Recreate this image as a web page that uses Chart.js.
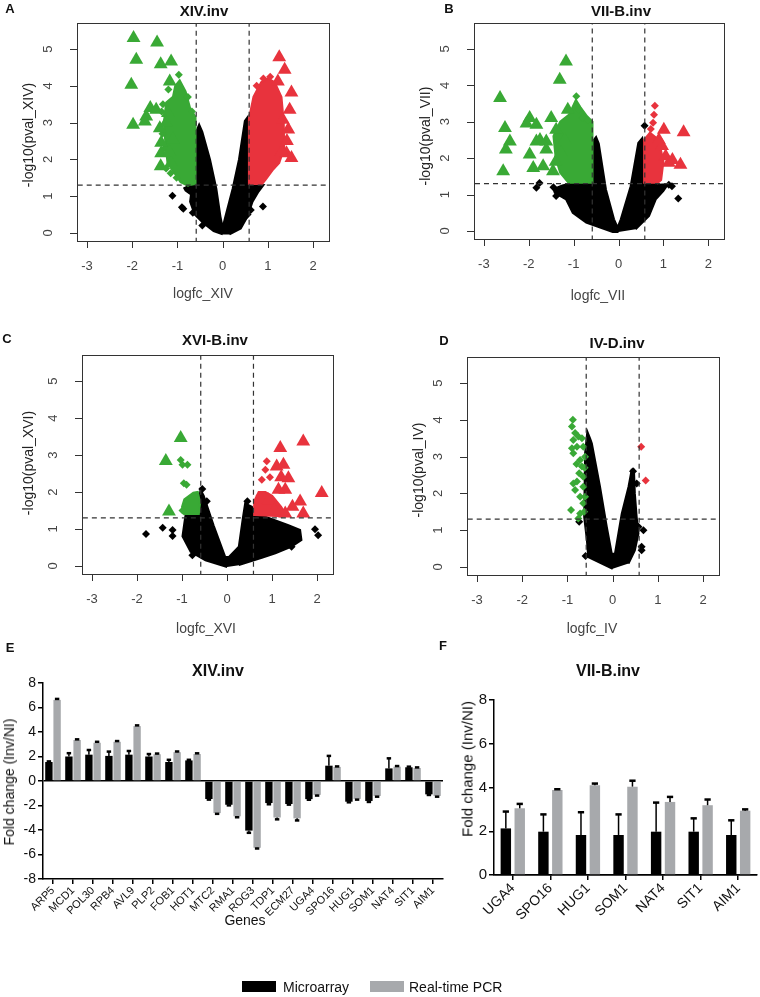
<!DOCTYPE html>
<html>
<head>
<meta charset="utf-8">
<script src="https://cdn.jsdelivr.net/npm/chart.js@4.4.1/dist/chart.umd.min.js"></script>
<style>
body{margin:0;background:#fff;width:760px;height:997px;position:relative;overflow:hidden;font-family:"Liberation Sans",Arial,sans-serif;}
canvas{position:absolute;}
.t{position:absolute;white-space:nowrap;color:#222;line-height:1;transform:translate(-50%,-50%);}
.b{font-weight:bold;color:#111;}
.r{transform:translate(-50%,-50%) rotate(-90deg);}
.sw{position:absolute;width:34px;height:11px;}
</style>
</head>
<body>
<canvas id="cA" width="380" height="330" style="left:0;top:0"></canvas>
<canvas id="cB" width="380" height="330" style="left:380px;top:0"></canvas>
<canvas id="cC" width="380" height="330" style="left:0;top:300px"></canvas>
<canvas id="cD" width="380" height="330" style="left:380px;top:300px"></canvas>
<canvas id="cE" width="450" height="300" style="left:0;top:640px"></canvas>
<canvas id="cF" width="320" height="300" style="left:440px;top:640px"></canvas>

<div class="t b" style="left:10px;top:8px;font-size:13px">A</div>
<div class="t b" style="left:449px;top:8px;font-size:13px">B</div>
<div class="t b" style="left:7px;top:338px;font-size:13px">C</div>
<div class="t b" style="left:444px;top:340px;font-size:13px">D</div>
<div class="t b" style="left:10px;top:647px;font-size:13px">E</div>
<div class="t b" style="left:443px;top:645px;font-size:13px">F</div>

<div class="t b" style="left:204px;top:10px;font-size:15px">XIV.inv</div>
<div class="t b" style="left:621px;top:10px;font-size:15px">VII-B.inv</div>
<div class="t b" style="left:215px;top:339px;font-size:15px">XVI-B.inv</div>
<div class="t b" style="left:617px;top:342px;font-size:15px">IV-D.inv</div>
<div class="t b" style="left:218px;top:671px;font-size:16px">XIV.inv</div>
<div class="t b" style="left:608px;top:671px;font-size:16px">VII-B.inv</div>

<div class="t" style="left:203px;top:293px;font-size:14px;color:#444">logfc_XIV</div>
<div class="t" style="left:598px;top:295px;font-size:14px;color:#444">logfc_VII</div>
<div class="t" style="left:206px;top:628px;font-size:14px;color:#444">logfc_XVI</div>
<div class="t" style="left:592px;top:628px;font-size:14px;color:#444">logfc_IV</div>
<div class="t r" style="left:28px;top:135px;font-size:14px">-log10(pval_XIV)</div>
<div class="t r" style="left:425px;top:136px;font-size:14px">-log10(pval_VII)</div>
<div class="t r" style="left:28px;top:463px;font-size:14px">-log10(pval_XVI)</div>
<div class="t r" style="left:418px;top:470px;font-size:14px">-log10(pval_IV)</div>

<div class="t r" style="left:9px;top:782px;font-size:14px;color:#111">Fold change (Inv/NI)</div>
<div class="t r" style="left:467px;top:769px;font-size:15px;color:#111">Fold change (Inv/NI)</div>
<div class="t" style="left:245px;top:920px;font-size:14px;color:#111">Genes</div>

<div class="sw" style="left:242px;top:981px;background:#000"></div>
<div class="t" style="left:283px;top:987px;font-size:14px;color:#111;transform:translate(0,-50%)">Microarray</div>
<div class="sw" style="left:370px;top:981px;background:#a7a9ac"></div>
<div class="t" style="left:409px;top:987px;font-size:14px;color:#111;transform:translate(0,-50%)">Real-time PCR</div>

<script>
// volcano axes
var xTicks = [-3, -2, -1, 0, 1, 2];
var yTicks = [0, 1, 2, 3, 4, 5];
var xLim = [-3.22, 2.35];
var yLim = [-0.22, 5.71];
var fcCut = 0.585;
var pCut = 1.301;

// A: XIV.inv  (clouds are outlines of the dense point areas)
var aBlackCloud = [[0,-0.04],[-0.2,0.05],[-0.43,0.27],[-0.62,0.5],[-0.72,0.85],[-0.7,1.05],[-0.82,1.15],[-0.85,1.22],[-0.72,1.3],[-0.62,1.45],[-0.6,2.2],[-0.57,2.8],[-0.52,2.95],[-0.45,2.75],[-0.28,2.0],[-0.14,1.2],[-0.05,0.45],[0,0.15],[0.05,0.4],[0.22,1.2],[0.36,2.0],[0.49,3.05],[0.55,3.15],[0.56,2.3],[0.57,1.4],[0.7,1.28],[0.9,1.3],[0.78,1.1],[0.66,0.85],[0.55,0.45],[0.4,0.12],[0.15,-0.04]];
var aBlackDots = [[-1.11,1.01],[-0.9,0.7],[-0.87,0.66],[0.89,0.72],[-0.75,1.18],[-0.45,0.2],[0.48,0.42],[0.55,0.5],[-0.66,0.55],[0.62,0.62]];
var aGreenCloud = [[-0.6,1.3],[-0.6,3.15],[-0.72,3.4],[-0.82,3.85],[-0.95,4.15],[-1.05,4.0],[-1.1,3.7],[-1.25,3.55],[-1.3,3.0],[-1.27,2.5],[-1.22,1.9],[-1.08,1.65],[-0.93,1.38],[-0.75,1.27]];
var aGreenDots = [[-0.97,4.3],[-0.77,3.7],[-1.2,3.9],[-0.68,3.3],[-1.32,3.5],[-1.35,3.3],[-1.33,2.7],[-1.28,2.3],[-1.25,1.75],[-1.15,1.62],[-1.02,1.5]];
var aGreenTri = [[-1.97,5.3],[-1.45,5.18],[-1.91,4.71],[-1.37,4.59],[-1.14,4.66],[-2.02,4.03],[-1.17,4.12],[-1.6,3.4],[-1.69,3.17],[-1.98,2.94],[-1.72,3.03],[-1.39,2.85],[-1.36,2.45],[-1.1,2.54],[-1.36,2.17],[-1.37,1.81],[-1.14,1.9],[-1.47,3.35],[-1.21,3.26],[-1.25,3.0],[-1.18,2.2]];
var aRedCloud = [[0.58,1.3],[0.58,3.1],[0.68,3.7],[0.85,4.1],[1.0,4.2],[1.15,4.1],[1.3,3.7],[1.35,3.0],[1.36,2.3],[1.25,1.9],[1.1,1.7],[0.95,1.45],[0.85,1.3]];
var aRedDots = [[0.75,4.0],[0.9,4.2],[1.05,4.25]];
var aRedTri = [[1.25,4.78],[1.37,4.44],[1.22,4.12],[1.52,3.82],[1.48,3.35],[1.45,2.81],[1.52,2.04],[1.41,2.17],[1.33,3.08],[1.42,2.5],[1.3,2.2]];

// B: VII-B.inv
var bBlackCloud = [[0,-0.03],[-0.13,-0.03],[-0.72,0.23],[-1.02,0.5],[-1.17,0.87],[-1.42,1.05],[-1.45,1.15],[-1.25,1.25],[-1.1,1.3],[-0.62,1.32],[-0.58,1.9],[-0.55,2.5],[-0.5,2.58],[-0.44,2.4],[-0.28,1.14],[-0.1,0.32],[-0.02,0.1],[0.05,0.32],[0.27,1.23],[0.44,2.42],[0.53,2.55],[0.58,2.2],[0.6,1.4],[0.83,1.27],[1.1,1.28],[1.0,1.1],[0.83,0.87],[0.68,0.41],[0.38,0.05]];
var bBlackDots = [[-1.76,1.32],[-1.83,1.19],[-1.39,0.96],[-1.45,1.2],[1.33,0.89],[1.12,1.27],[1.19,1.23],[0.58,2.89]];
var bGreenCloud = [[-0.58,1.3],[-0.58,3.0],[-0.7,3.15],[-0.85,3.4],[-0.95,3.6],[-1.1,3.2],[-1.3,3.0],[-1.45,2.6],[-1.4,2.0],[-1.3,1.6],[-1.1,1.3]];
var bGreenDots = [[-0.94,3.7],[-0.89,3.33],[-0.8,3.1],[-0.7,3.05]];
var bGreenTri = [[-1.17,4.65],[-1.31,4.15],[-2.64,3.65],[-2.53,2.83],[-2.42,2.46],[-2.51,2.24],[-2.57,1.64],[-1.98,3.1],[-1.83,2.92],[-1.98,2.1],[-1.9,1.73],[-1.83,2.46],[-1.61,2.46],[-1.5,3.1],[-1.68,1.78],[-1.46,1.64],[-1.61,2.24],[-1.39,2.78],[-1.13,3.33],[-1.28,2.14],[-2.05,2.95],[-1.75,2.5],[-1.4,1.9],[-1.2,2.5]];
var bRedCloud = [[0.57,1.3],[0.57,2.5],[0.7,2.7],[0.85,2.55],[0.95,2.2],[1.0,1.9],[0.95,1.4],[0.85,1.3]];
var bRedDots = [[0.81,3.44],[0.79,3.19],[0.77,2.97],[0.72,2.8]];
var bRedTri = [[1.01,2.78],[1.45,2.71],[1.38,1.82],[1.12,1.87],[0.97,2.33],[1.05,2.05],[0.9,2.5],[1.2,1.95]];

// C: XVI-B.inv
var cBlackCloud = [[0,-0.03],[-0.48,0.15],[-0.81,0.38],[-0.99,0.8],[-0.95,1.15],[-0.92,1.4],[-0.7,1.5],[-0.62,1.8],[-0.59,2.06],[-0.52,1.9],[-0.3,1.1],[-0.04,0.24],[0.04,0.24],[0.26,0.52],[0.35,1.3],[0.4,1.69],[0.55,1.6],[0.6,1.4],[0.85,1.33],[1.36,1.1],[1.62,0.97],[1.65,0.7],[1.43,0.52],[1.07,0.34],[0.77,0.22],[0.26,0.02]];
var cBlackDots = [[-1.8,0.86],[-1.43,1.03],[-1.21,0.97],[-1.21,0.81],[-0.77,0.29],[1.95,0.99],[2.02,0.83],[1.43,0.83],[1.25,0.52],[1.43,0.52],[-0.55,2.08],[-0.45,1.75],[0.45,1.75]];
var cGreenCloud = [[-0.63,1.38],[-0.6,1.7],[-0.65,2.0],[-0.75,1.98],[-0.95,1.8],[-1.0,1.6],[-0.95,1.38]];
var cGreenDots = [[-1.03,2.87],[-0.99,2.74],[-0.88,2.74],[-0.96,2.24],[-0.9,2.2],[-0.99,1.5]];
var cGreenTri = [[-1.03,3.46],[-1.36,2.84],[-1.29,1.47]];
var cRedCloud = [[0.6,1.35],[0.6,1.75],[0.7,2.0],[0.85,2.0],[1.0,1.9],[1.2,1.6],[1.3,1.4],[1.2,1.32]];
var cRedDots = [[0.88,2.83],[0.85,2.6],[0.77,2.33],[0.95,2.4],[0.72,1.9]];
var cRedTri = [[1.18,3.19],[1.69,3.37],[1.1,2.69],[1.25,2.74],[1.36,2.37],[1.14,2.06],[1.29,2.06],[2.1,1.97],[1.62,1.74],[1.69,1.42],[1.29,1.42],[0.92,1.78],[1.05,1.5],[1.2,2.4],[1.45,1.6]];

// D: IV-D.inv
var dBlackCloud = [[0,-0.05],[-0.54,0.27],[-0.57,0.73],[-0.63,1.36],[-0.61,3.09],[-0.56,3.68],[-0.5,3.5],[-0.46,3.36],[-0.28,2.18],[-0.13,1.09],[-0.02,0.36],[0.05,0.36],[0.2,1.45],[0.35,2.18],[0.42,2.64],[0.47,2.64],[0.49,2.0],[0.53,1.36],[0.57,0.91],[0.49,0.45],[0.35,0.09]];
var dBlackDots = [[-0.74,1.23],[0.68,1.0],[0.64,0.55],[0.64,0.45],[0.57,1.09],[0.53,2.27],[0.45,2.6],[-0.6,0.3]];
var dGreenDots = [[-0.88,4.0],[-0.9,3.82],[-0.83,3.64],[-0.76,3.55],[-0.68,3.5],[-0.87,3.45],[-0.79,3.27],[-0.9,3.23],[-0.65,3.27],[-0.87,3.09],[-0.72,2.91],[-0.61,3.0],[-0.68,2.73],[-0.74,2.55],[-0.65,2.45],[-0.79,2.32],[-0.83,2.09],[-0.65,2.18],[-0.72,1.91],[-0.61,1.91],[-0.65,1.73],[-0.92,1.55],[-0.72,1.45],[-0.63,1.5],[-0.76,1.32],[-0.87,2.27],[-0.8,2.8],[-0.62,2.7]];
var dRedDots = [[0.63,3.27],[0.73,2.35]];

// E: XIV.inv fold changes
var genesE = ['ARP5','MCD1','POL30','RPB4','AVL9','PLP2','FOB1','HOT1','MTC2','RMA1','ROG3','TDP1','ECM27','UGA4','SPO16','HUG1','SOM1','NAT4','SIT1','AIM1'];
var microE = [1.55, 2.0, 2.15, 2.05, 2.15, 2.0, 1.55, 1.68, -1.47, -1.94, -4.05, -1.8, -1.88, -1.48, 1.25, -1.69, -1.63, 1.03, 1.12, -1.09];
var microErrE = [0.05, 0.27, 0.38, 0.35, 0.3, 0.2, 0.18, 0.05, 0.05, 0.05, 0.18, 0.1, 0.05, 0.05, 0.8, 0.05, 0.08, 0.82, 0.05, 0.05];
var pcrE = [6.62, 3.35, 3.12, 3.2, 4.48, 2.18, 2.35, 2.2, -2.62, -2.88, -5.45, -2.98, -3.05, -1.13, 1.15, -1.46, -1.22, 1.17, 1.06, -1.22];
var pcrErrE = [0.08, 0.05, 0.08, 0.06, 0.06, 0.06, 0.06, 0.06, 0.06, 0.08, 0.06, 0.15, 0.17, 0.06, 0.04, 0.06, 0.06, 0.05, 0.05, 0.06];

// F: VII-B.inv fold changes
var genesF = ['UGA4','SPO16','HUG1','SOM1','NAT4','SIT1','AIM1'];
var microF = [2.13, 1.98, 1.83, 1.83, 1.98, 1.98, 1.83];
var microErrF = [0.77, 0.79, 1.04, 0.94, 1.33, 0.61, 0.67];
var pcrF = [3.05, 3.89, 4.1, 4.04, 3.34, 3.19, 2.94];
var pcrErrF = [0.2, 0.03, 0.08, 0.27, 0.23, 0.26, 0.06];

var GREEN = '#39a935';
var RED = '#e8333d';
var BLACK = '#000';
var GREY = '#a7a9ac';
var FONT = '"Liberation Sans", Arial, sans-serif';

Chart.defaults.font.family = FONT;
Chart.defaults.animation = false;

function pts(a) {
    return a.map(function (p) { return {x: p[0], y: p[1]}; });
}
function cloud(a, col) {
    return {data: pts(a), showLine: true, fill: 'shape', backgroundColor: col, borderColor: col,
            borderWidth: 2, pointRadius: 0, tension: 0};
}
function dots(a, col, style, r) {
    return {data: pts(a), backgroundColor: col, borderColor: col, pointStyle: style,
            pointRadius: r, borderWidth: 0};
}
function cut(a) {
    return {data: pts(a), showLine: true, fill: false, borderColor: '#333', borderWidth: 1.2,
            borderDash: [5, 4], pointRadius: 0};
}

// R style box, ticks and rotated y labels
var rAxes = {
    id: 'rAxes',
    afterDraw: function (chart) {
        var ctx = chart.ctx, a = chart.chartArea, x = chart.scales.x, y = chart.scales.y;
        ctx.save();
        ctx.strokeStyle = '#333';
        ctx.lineWidth = 1;
        ctx.strokeRect(a.left + 0.5, a.top + 0.5, a.right - a.left, a.bottom - a.top);
        ctx.beginPath();
        xTicks.forEach(function (v) {
            var px = Math.round(x.getPixelForValue(v)) + 0.5;
            ctx.moveTo(px, a.bottom);
            ctx.lineTo(px, a.bottom + 7);
        });
        yTicks.forEach(function (v) {
            var py = Math.round(y.getPixelForValue(v)) + 0.5;
            ctx.moveTo(a.left, py);
            ctx.lineTo(a.left - 7, py);
        });
        ctx.stroke();
        ctx.fillStyle = '#444';
        ctx.font = '13px ' + FONT;
        ctx.textAlign = 'center';
        ctx.textBaseline = 'middle';
        xTicks.forEach(function (v) {
            ctx.fillText(String(v), x.getPixelForValue(v), a.bottom + 25);
        });
        yTicks.forEach(function (v) {
            ctx.save();
            ctx.translate(a.left - 29, y.getPixelForValue(v));
            ctx.rotate(-Math.PI / 2);
            ctx.fillText(String(v), 0, 0);
            ctx.restore();
        });
        ctx.restore();
    }
};

function volcano(id, cl, ct, box, sets) {
    var cv = document.getElementById(id);
    var datasets = [
        cut([[-fcCut, -1], [-fcCut, 7]]),
        cut([[fcCut, -1], [fcCut, 7]]),
        cut([[-4, pCut], [3, pCut]]),
        dots(sets.greenTri || [], GREEN, 'triangle', 8),
        dots(sets.redTri || [], RED, 'triangle', 8),
        dots(sets.greenDots || [], GREEN, 'rectRot', 4),
        dots(sets.redDots || [], RED, 'rectRot', 4),
        cloud(sets.greenCloud || [], GREEN),
        cloud(sets.redCloud || [], RED),
        dots(sets.blackDots, BLACK, 'rectRot', 4),
        cloud(sets.blackCloud, BLACK)
    ];
    return new Chart(cv, {
        type: 'scatter',
        data: {datasets: datasets},
        options: {
            responsive: false,
            layout: {padding: {left: box[0] - cl, top: box[1] - ct,
                               right: cl + cv.width - box[2], bottom: ct + cv.height - box[3]}},
            plugins: {legend: {display: false}, tooltip: {enabled: false}},
            scales: {
                x: {type: 'linear', min: xLim[0], max: xLim[1], display: false},
                y: {type: 'linear', min: yLim[0], max: yLim[1], display: false}
            }
        },
        plugins: [rAxes]
    });
}

volcano('cA', 0, 0, [77, 23, 329, 241], {blackCloud: aBlackCloud, blackDots: aBlackDots,
    greenCloud: aGreenCloud, greenDots: aGreenDots, greenTri: aGreenTri,
    redCloud: aRedCloud, redDots: aRedDots, redTri: aRedTri});
volcano('cB', 380, 0, [474, 23, 724, 239], {blackCloud: bBlackCloud, blackDots: bBlackDots,
    greenCloud: bGreenCloud, greenDots: bGreenDots, greenTri: bGreenTri,
    redCloud: bRedCloud, redDots: bRedDots, redTri: bRedTri});
volcano('cC', 0, 300, [82, 355, 333, 574], {blackCloud: cBlackCloud, blackDots: cBlackDots,
    greenCloud: cGreenCloud, greenDots: cGreenDots, greenTri: cGreenTri,
    redCloud: cRedCloud, redDots: cRedDots, redTri: cRedTri});
volcano('cD', 380, 300, [467, 357, 719, 575], {blackCloud: dBlackCloud, blackDots: dBlackDots,
    greenDots: dGreenDots, redDots: dRedDots});

// error bars drawn away from zero
var errBars = {
    id: 'errBars',
    afterDatasetsDraw: function (chart) {
        var ctx = chart.ctx, y = chart.scales.y;
        ctx.save();
        ctx.strokeStyle = '#000';
        chart.data.datasets.forEach(function (ds, di) {
            chart.getDatasetMeta(di).data.forEach(function (bar, i) {
                var v = ds.data[i], e = ds.errors[i];
                var end = y.getPixelForValue(v + Math.sign(v) * e);
                var w = bar.width * 0.6;
                ctx.lineWidth = 1.5;
                ctx.beginPath();
                ctx.moveTo(bar.x, bar.y);
                ctx.lineTo(bar.x, end);
                ctx.stroke();
                ctx.lineWidth = 2.5;
                ctx.beginPath();
                ctx.moveTo(bar.x - w / 2, end);
                ctx.lineTo(bar.x + w / 2, end);
                ctx.stroke();
            });
        });
        ctx.restore();
    }
};

function fold(id, genes, micro, microErr, pcr, pcrErr, o) {
    return new Chart(document.getElementById(id), {
        type: 'bar',
        data: {
            labels: genes,
            datasets: [
                {label: 'Microarray', data: micro, errors: microErr, backgroundColor: BLACK},
                {label: 'Real-time PCR', data: pcr, errors: pcrErr, backgroundColor: GREY}
            ]
        },
        options: {
            responsive: false,
            categoryPercentage: o.cat,
            barPercentage: o.bar,
            layout: {padding: {left: 0, top: o.top, right: o.right, bottom: 0}},
            plugins: {legend: {display: false}, tooltip: {enabled: false}},
            scales: {
                x: {
                    afterFit: function (s) { s.height = o.xh; },
                    grid: {display: true, drawOnChartArea: false, offset: false, tickLength: 5,
                           color: '#000', lineWidth: 1.5},
                    border: {display: true, color: '#000', width: 1.5},
                    ticks: {autoSkip: false, minRotation: 45, maxRotation: 45, padding: 0,
                            color: '#111', font: {size: o.xf}}
                },
                y: {
                    min: o.min, max: 8,
                    afterFit: function (s) { s.width = o.yw; },
                    grid: {
                        color: function (c) { return c.tick && c.tick.value === 0 ? '#000' : 'rgba(0,0,0,0)'; },
                        lineWidth: 1.5, tickColor: '#000', tickWidth: 1.5, tickLength: 5
                    },
                    border: {display: true, color: '#000', width: 1.5},
                    ticks: {stepSize: 2, padding: 2, color: '#111', font: {size: o.yf}}
                }
            }
        },
        plugins: [errBars]
    });
}

fold('cE', genesE, microE, microErrE, pcrE, pcrErrE,
     {cat: 0.82, bar: 0.9, top: 43, right: 7, xh: 61, yw: 43, min: -8, xf: 11, yf: 14});
fold('cF', genesF, microF, microErrF, pcrF, pcrErrF,
     {cat: 0.74, bar: 0.75, top: 60, right: 3, xh: 65, yw: 54, min: 0, xf: 14, yf: 15});
</script>
</body>
</html>
